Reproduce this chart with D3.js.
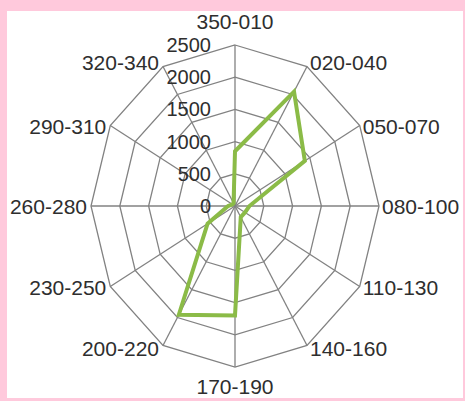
<!doctype html>
<html>
<head>
<meta charset="utf-8">
<title>Radar</title>
<script src="https://cdn.jsdelivr.net/npm/d3@7/dist/d3.min.js"></script>
<style>
body { margin: 0; background: #ffc9dc; }
text { font-family: 'Liberation Sans', Arial, sans-serif; fill: #2e2e2e; }
</style>
</head>
<body>
<script>
// data
var sectors = ['350-010','020-040','050-070','080-100','110-130','140-160',
               '170-190','200-220','230-250','260-280','290-310','320-340'];
var counts = [850, 2050, 1400, 250, 200, 200, 1700, 1950, 550, 120, 50, 50];
var ringTicks = [0, 500, 1000, 1500, 2000, 2500];

var W = 465, H = 401;
var cx = 235, cy = 206;
var rx = 144, ry = 161;   // the picture is a bit stretched vertically

var svg = d3.select('body').append('svg')
  .attr('width', W).attr('height', H)
  .style('display', 'block');

// white plot area inside the pink frame
svg.append('rect')
  .attr('x', 7).attr('y', 11)
  .attr('width', 456).attr('height', 387)
  .attr('fill', '#fff');

var r = d3.scaleLinear().domain([0, 2500]).range([0, 1]);
var ang = d3.scaleLinear().domain([0, sectors.length]).range([0, 2 * Math.PI]);

function pt(i, v) {
  var a = ang(i);
  return [cx + Math.sin(a) * r(v) * rx, cy - Math.cos(a) * r(v) * ry];
}

var grid = svg.append('g');

// rings
ringTicks.slice(1).forEach(function(t) {
  grid.append('path')
    .attr('d', d3.line()(sectors.map(function(s, i) { return pt(i, t); })) + 'Z')
    .attr('fill', 'none')
    .attr('stroke', '#828282')
    .attr('stroke-width', 1.3);
});

// spokes
sectors.forEach(function(s, i) {
  var p = pt(i, 2500);
  grid.append('line')
    .attr('x1', cx).attr('y1', cy)
    .attr('x2', p[0]).attr('y2', p[1])
    .attr('stroke', '#828282')
    .attr('stroke-width', 1.3);
});

// ring labels
svg.append('g').selectAll('text')
  .data(ringTicks)
  .enter().append('text')
  .attr('x', cx - 24)
  .attr('y', function(d) { return cy - r(d) * ry; })
  .attr('dy', '0.35em')
  .attr('text-anchor', 'end')
  .style('font-size', '20px')
  .text(function(d) { return d; });

// sector labels
svg.append('g').selectAll('text')
  .data(sectors)
  .enter().append('text')
  .each(function(d, i) {
    var p = pt(i, 2500);
    var s = Math.sin(ang(i)), c = Math.cos(ang(i));
    var el = d3.select(this);
    if (Math.abs(s) < 0.1) {
      el.attr('x', p[0]).attr('text-anchor', 'middle')
        .attr('y', p[1] + (c > 0 ? -23 : 20));
    } else {
      el.attr('x', p[0] + (s > 0 ? 3 : -4))
        .attr('text-anchor', s > 0 ? 'start' : 'end')
        .attr('y', p[1] + (Math.abs(c) > 0.8 ? (c > 0 ? -4 : 3) : 1));
    }
  })
  .attr('dy', '0.35em')
  .style('font-size', '21px')
  .text(function(d) { return d; });

// series
svg.append('path')
  .datum(counts)
  .attr('d', function(d) {
    return d3.line()(d.map(function(v, i) { return pt(i, v); })) + 'Z';
  })
  .attr('fill', 'none')
  .attr('stroke', '#8bbb47')
  .attr('stroke-width', 4)
  .attr('stroke-linejoin', 'miter');
</script>
</body>
</html>
